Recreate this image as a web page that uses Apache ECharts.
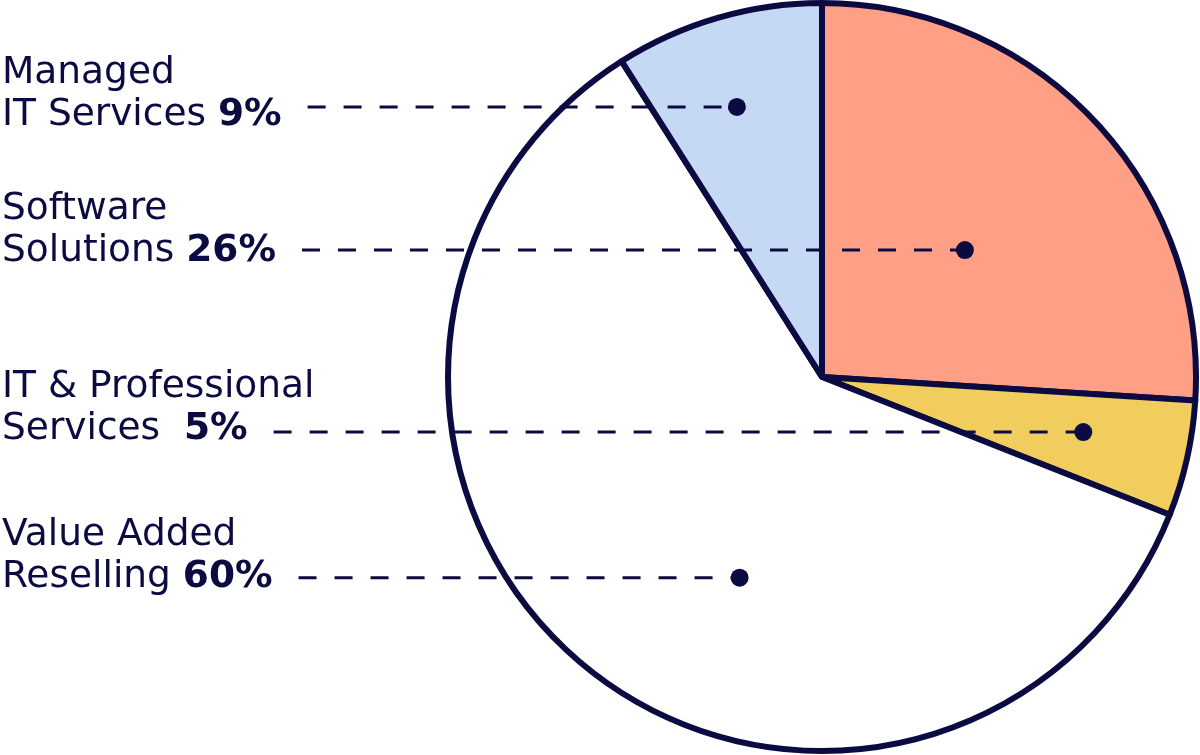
<!DOCTYPE html>
<html><head><meta charset="utf-8">
<script src="https://cdn.jsdelivr.net/npm/echarts@6/dist/echarts.min.js"></script>
<style>html,body{margin:0;padding:0;background:#fff}#c{width:1200px;height:755px}</style>
</head><body><div id="c"></div>
<script>
// ---- data ----
const categories = ['Software\nSolutions', 'IT & Professional\nServices ', 'Value Added\nReselling', 'Managed\nIT Services'];
const shares = [26, 5, 60, 9];

// ---- styles / layout ----
const palette = ['#FFA086', '#F0CD5C', '#FFFFFF', '#C5D8F4'];
const NAVY = '#0B0B42';
const CX = 822, CY = 377, R = 374;
const FONT = '"DejaVu Sans"';
const FS = 37.5, LH = 42;
const dotSpot = [ // marker spot inside each slice: fraction of sweep, fraction of radius
  {t: 0.517, r: 0.511},
  {t: 0.461, r: 0.714},
  {t: 0.420, r: 0.580},
  {t: 0.460, r: 0.757}
];
const labelDy = [1.5, -3, -0.5, 8]; // vertical nudge of each label's 2nd line vs its leader line
const LINE_GAP = 26;

const total = shares.reduce((a, b) => a + b, 0);
const cum = shares.map((v, i) => shares.slice(0, i).reduce((a, b) => a + b, 0));
const dotAngle = shares.map((v, i) => cum[i] + dotSpot[i].t * v);
const dotData = shares.map((v, i) => [dotSpot[i].r, dotAngle[i]]);

function dotPixel(i) {
  const th = (90 - dotAngle[i] / total * 360) * Math.PI / 180;
  return [CX + dotSpot[i].r * R * Math.cos(th), CY - dotSpot[i].r * R * Math.sin(th)];
}
const mctx = document.createElement('canvas').getContext('2d');
function textW(s, weight) { mctx.font = weight + ' ' + FS + 'px ' + FONT; return mctx.measureText(s).width; }

const pieData = categories.map((c, i) => ({name: c, value: shares[i], itemStyle: {color: palette[i]}}));

const chart = echarts.init(document.getElementById('c'), null, {renderer: 'canvas'});
chart.setOption({
  animation: false,
  backgroundColor: '#ffffff',
  polar: {center: [CX, CY], radius: R},
  angleAxis: {type: 'value', min: 0, max: total, startAngle: 90, clockwise: true, show: false},
  radiusAxis: {type: 'value', min: 0, max: 1, show: false},
  series: [{
    type: 'pie',
    center: [CX, CY],
    radius: R,
    startAngle: 90,
    clockwise: true,
    silent: true,
    data: pieData,
    itemStyle: {borderColor: NAVY, borderWidth: 6},
    emphasis: {disabled: true},
    label: {show: false},
    labelLine: {show: false},
    z: 2
  }, {
    // transparent overlay carrying the labels and dashed leaders above the slices
    type: 'pie',
    center: [CX, CY],
    radius: R,
    startAngle: 90,
    clockwise: true,
    avoidLabelOverlap: false,
    silent: true,
    data: categories.map((c, i) => ({name: c, value: shares[i]})),
    itemStyle: {color: 'rgba(0,0,0,0)', borderWidth: 0},
    emphasis: {disabled: true},
    label: {
      show: true,
      position: 'outside',
      formatter: p => {
        const ls = p.name.split('\n');
        return '{n|' + ls[0] + '}\n{n|' + ls[1] + ' }{b|' + p.value + '%}';
      },
      rich: {
        n: {fontFamily: FONT, fontSize: FS, fontWeight: 400, color: NAVY, lineHeight: LH},
        b: {fontFamily: FONT, fontSize: FS, fontWeight: 700, color: NAVY, lineHeight: LH}
      }
    },
    labelLine: {show: true, lineStyle: {color: NAVY, width: 3, type: [18, 18]}},
    labelLayout: params => {
      const i = params.dataIndex;
      const [dx, dy] = dotPixel(i);
      const ls = categories[i].split('\n');
      const w2 = textW(ls[1] + ' ', 400) + textW(shares[i] + '%', 700);
      const lx = 2;
      const ly = dy + labelDy[i] - LH * 1.5;
      const x0 = lx + w2 + LINE_GAP;
      return {
        x: lx, y: ly, align: 'left', verticalAlign: 'top',
        labelLinePoints: [[x0, dy], [dx, dy], [dx, dy]]
      };
    },
    z: 4
  }, {
    type: 'scatter',
    coordinateSystem: 'polar',
    data: dotData,
    symbol: 'circle',
    symbolSize: 18,
    itemStyle: {color: NAVY, opacity: 1},
    silent: true,
    z: 6
  }]
});
</script>
</body></html>
